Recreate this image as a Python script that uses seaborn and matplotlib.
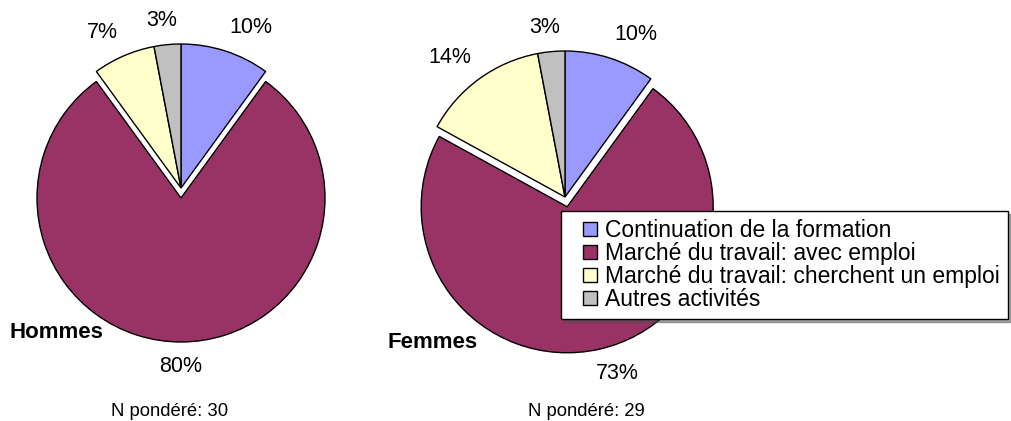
import matplotlib
matplotlib.use("Agg")
import matplotlib.pyplot as plt
from matplotlib.lines import Line2D
import numpy as np
import seaborn as sns

# Données
categories = ["Continuation de la formation",
              "Marché du travail: avec emploi",
              "Marché du travail: cherchent un emploi",
              "Autres activités"]
hommes = [10, 80, 7, 3]
femmes = [10, 73, 14, 3]
n_hommes = 30
n_femmes = 29
couleurs = ["#9999FF", "#993366", "#FFFFCC", "#C0C0C0"]

sns.set_theme(style="white")
plt.rcParams['font.family'] = ['Liberation Sans', 'DejaVu Sans']
plt.rcParams['text.color'] = 'black'

W, H = 1012, 421
fig = plt.figure(figsize=(W / 100, H / 100), dpi=100)
ax = fig.add_axes([0, 0, 1, 1])

# explode en unités de données (pixels ici)
explode = [0, 10, 0, 0]
wedge_props = dict(edgecolor="black", linewidth=1)
txt_props = dict(fontsize=15.5, color="black")

# camembert hommes
w1, t1, a1 = ax.pie(hommes, colors=couleurs, startangle=90, counterclock=False,
                    explode=explode, center=(181, H - 188), radius=144,
                    autopct='%1.0f%%', pctdistance=1.2, wedgeprops=wedge_props,
                    textprops=txt_props)

# camembert femmes
w2, t2, a2 = ax.pie(femmes, colors=couleurs, startangle=90, counterclock=False,
                    explode=explode, center=(565, H - 197), radius=146,
                    autopct='%1.0f%%', pctdistance=1.2, wedgeprops=wedge_props,
                    textprops=txt_props)

ax.set_xlim(0, W)
ax.set_ylim(0, H)
ax.set_aspect('equal')
ax.axis('off')


# étiquettes placées à la manière d'Excel : coin du texte tourné vers le camembert
def placer_etiquettes(wedges, textes, ecart=14):
    renderer = fig.canvas.get_renderer()
    for w, t in zip(wedges, textes):
        ang = np.deg2rad((w.theta1 + w.theta2) / 2)
        cx, cy = w.center
        ax_ = cx + (w.r + ecart) * np.cos(ang)
        ay_ = cy + (w.r + ecart) * np.sin(ang)
        t.set_ha('center')
        t.set_va('center')
        bb = t.get_window_extent(renderer)
        kx = np.clip(np.cos(ang) * 3.3, -1, 1)
        ky = np.clip(np.sin(ang) * 3.3, -1, 1)
        t.set_position((ax_ + kx * bb.width / 2, ay_ + ky * bb.height / 2))


placer_etiquettes(w1, a1)
placer_etiquettes(w2, a2)

ax.text(10, H - 333, "Hommes", fontsize=16, fontweight='bold', va='center', ha='left')
ax.text(388, H - 342, "Femmes", fontsize=16, fontweight='bold', va='center', ha='left')
ax.text(170, H - 412, f"N pondéré: {n_hommes}", fontsize=13.3, ha='center', va='center')
ax.text(586, H - 412, f"N pondéré: {n_femmes}", fontsize=13.3, ha='center', va='center')

handles = [Line2D([], [], linestyle='none', marker='s', markersize=10,
                  markerfacecolor=c, markeredgecolor='black', markeredgewidth=1)
           for c in couleurs]
leg = ax.legend(handles, categories, loc='upper left',
                bbox_to_anchor=(561 / W, 1 - 211 / H), bbox_transform=fig.transFigure,
                borderaxespad=0, frameon=True, fancybox=False, shadow=True,
                fontsize=16.5, labelspacing=0.0, handlelength=1.83,
                handletextpad=-0.26, borderpad=0.35)
leg.get_frame().set_edgecolor("black")
leg.get_frame().set_linewidth(1)
leg.get_frame().set_facecolor("white")

fig.savefig("out.png", dpi=100)
